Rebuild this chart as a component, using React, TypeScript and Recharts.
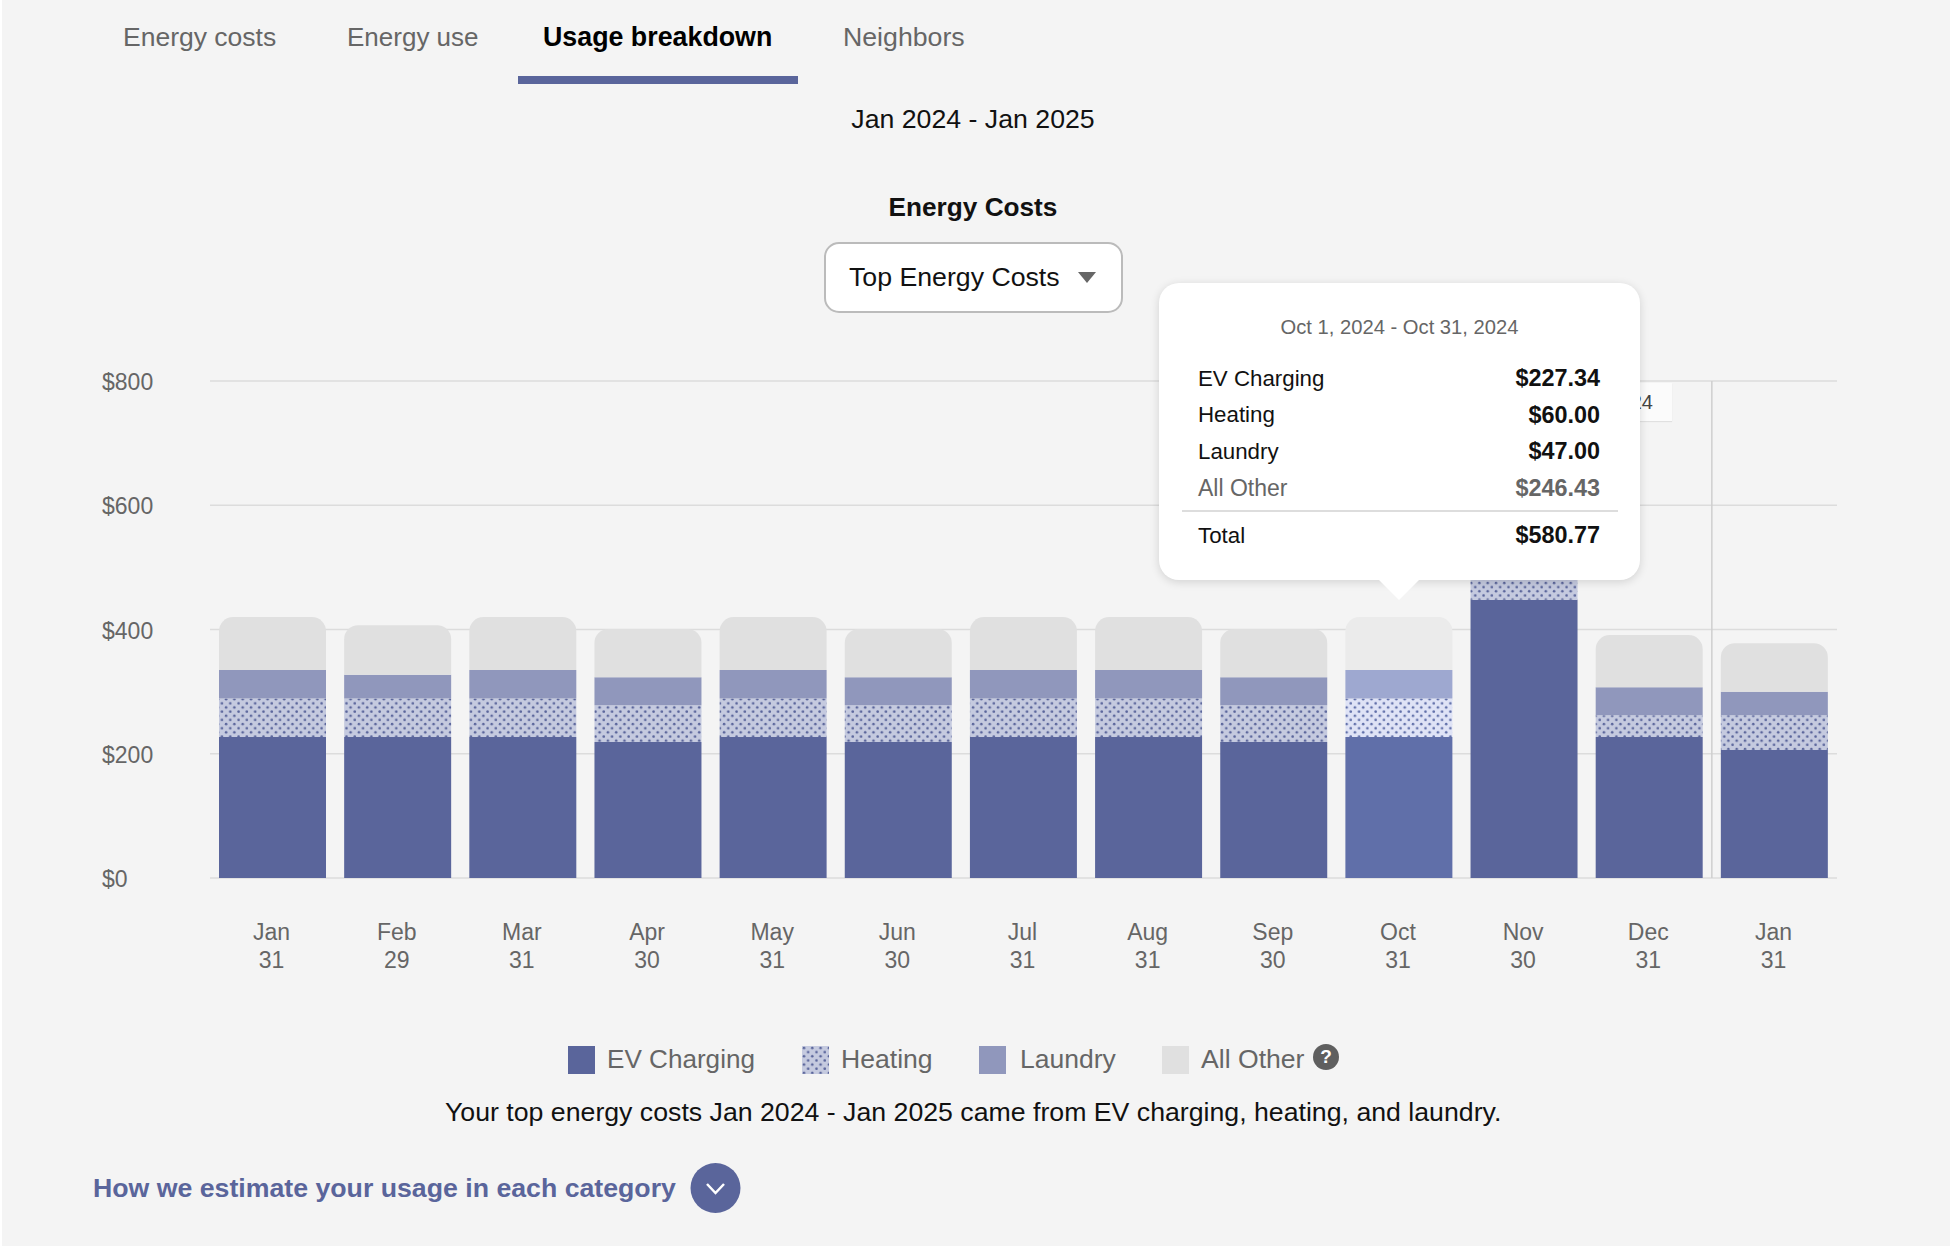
import React from 'react';
import {
  BarChart,
  Bar,
  Cell,
  XAxis,
  YAxis,
  CartesianGrid,
  ReferenceLine,
  Tooltip,
} from 'recharts';

const FONT = '"Liberation Sans", Arial, sans-serif';
const BG = '#f4f4f4';
const INDIGO = '#5a659b';
const GREY = '#666';

const months = ['Jan', 'Feb', 'Mar', 'Apr', 'May', 'Jun', 'Jul', 'Aug', 'Sep', 'Oct', 'Nov', 'Dec', 'Jan'];
const days = ['31', '29', '31', '30', '31', '30', '31', '31', '30', '31', '30', '31', '31'];
const evCharging = [227, 227, 227, 219, 227, 219, 227, 227, 219, 227, 448, 227, 206];
const heating = [62, 62, 62, 59, 62, 59, 62, 62, 59, 62, 60, 35, 56];
const laundry = [46, 38, 46, 45, 46, 45, 46, 46, 45, 46, 47, 45, 38];
const allOther = [85, 80, 85, 78, 85, 78, 85, 85, 78, 85, 86, 84, 78];
const yTicks = [0, 200, 400, 600, 800];

const tabs = ['Energy costs', 'Energy use', 'Usage breakdown', 'Neighbors'];
const tabLefts = [123, 347, 543, 843];
const tabSizes = [26.5, 26, 26.8, 26.7];
const legendNames = ['EV Charging', 'Heating', 'Laundry', 'All Other'];
const legendSizes = [26.1, 26.6, 26.5, 26.6];
const tooltipNames = ['EV Charging', 'Heating', 'Laundry', 'All Other'];
const tooltipValues = ['$227.34', '$60.00', '$47.00', '$246.43'];

const HIGHLIGHT = 9;

const data = months.map((month, i) => ({
  month,
  ev: evCharging[i],
  heating: heating[i],
  laundry: laundry[i],
  other: allOther[i],
}));

const abs = (left: number, top: number, extra: React.CSSProperties = {}): React.CSSProperties => ({
  position: 'absolute',
  left,
  top,
  whiteSpace: 'nowrap',
  ...extra,
});

function Label({ x, y, size = 26.7, color = '#111', bold = false, center = false, children }: any) {
  return (
    <div
      style={abs(x, y, {
        fontSize: size,
        lineHeight: '30px',
        marginTop: -15,
        color,
        fontWeight: bold ? 700 : 400,
        transform: center ? 'translateX(-50%)' : undefined,
      })}
    >
      {children}
    </div>
  );
}

function YTick({ y, payload }: any) {
  return (
    <text x={102} y={y} dy={9} fontSize={23} fontFamily={FONT} fill={GREY} textAnchor="start">
      ${payload.value}
    </text>
  );
}

function XTick({ x, y, index }: any) {
  return (
    <g>
      <text x={x - 1} y={y + 54} fontSize={23} fontFamily={FONT} fill={GREY} textAnchor="middle">
        {months[index]}
      </text>
      <text x={x - 1} y={y + 82} fontSize={23} fontFamily={FONT} fill={GREY} textAnchor="middle">
        {days[index]}
      </text>
    </g>
  );
}

function TooltipCard() {
  return (
    <div
      style={{
        position: 'relative',
        width: 481,
        height: 297,
        background: '#fff',
        borderRadius: 20,
        boxShadow: '0 2px 10px rgba(0,0,0,0.14)',
        fontFamily: FONT,
      }}
    >
      <div style={{ position: 'absolute', left: 0, width: 481, top: 33, textAlign: 'center', fontSize: 20.2, color: GREY }}>
        Oct 1, 2024 - Oct 31, 2024
      </div>
      {tooltipNames.map((name, i) => (
        <div
          key={name}
          style={{
            position: 'absolute',
            left: 39,
            width: 402,
            top: 82 + i * 36.6,
            display: 'flex',
            justifyContent: 'space-between',
            alignItems: 'center',
            fontSize: i === 3 ? 23 : 22.3,
            color: i === 3 ? GREY : '#111',
          }}
        >
          <span>{name}</span>
          <b style={{ fontSize: 23.4 }}>{tooltipValues[i]}</b>
        </div>
      ))}
      <div style={{ position: 'absolute', left: 23, width: 436, top: 227, height: 2, background: '#ddd' }} />
      <div
        style={{
          position: 'absolute',
          left: 39,
          width: 402,
          top: 239,
          display: 'flex',
          justifyContent: 'space-between',
          alignItems: 'center',
          fontSize: 22.3,
          color: '#111',
        }}
      >
        <span>Total</span>
        <b style={{ fontSize: 23.4 }}>$580.77</b>
      </div>
      <div
        style={{
          position: 'absolute',
          left: 240,
          top: 297,
          width: 0,
          height: 0,
          marginLeft: -20,
          borderLeft: '20px solid transparent',
          borderRight: '20px solid transparent',
          borderTop: '20px solid #fff',
        }}
      />
    </div>
  );
}

function Swatch({ x, fill }: { x: number; fill: string }) {
  return (
    <svg style={abs(x, 1046)} width={27} height={28}>
      <rect width={27} height={28} fill={fill} />
    </svg>
  );
}

function Patterns() {
  return (
    <defs>
      <pattern id="dots" width="8.3" height="8.3" patternUnits="userSpaceOnUse">
        <rect width="8.3" height="8.3" fill="#c5cadf" />
        <circle cx="2" cy="2" r="1.3" fill={INDIGO} />
        <circle cx="6.15" cy="6.15" r="1.3" fill={INDIGO} />
      </pattern>
      <pattern id="dotsActive" width="8.3" height="8.3" patternUnits="userSpaceOnUse">
        <rect width="8.3" height="8.3" fill="#dfe3f6" />
        <circle cx="2" cy="2" r="1.3" fill="#606fa9" />
        <circle cx="6.15" cy="6.15" r="1.3" fill="#606fa9" />
      </pattern>
    </defs>
  );
}

export default function App() {
  return (
    <div style={abs(0, 0, { width: 1950, height: 1248, background: '#fff', fontFamily: FONT, overflow: 'hidden' })}>
      <div style={abs(2, 0, { width: 1948, height: 1246, background: BG })} />
      {tabs.map((tab, i) => (
        <Label key={tab} x={tabLefts[i]} y={37} size={tabSizes[i]} bold={i === 2} color={i === 2 ? '#000' : GREY}>
          {tab}
        </Label>
      ))}
      <div style={abs(518, 76, { width: 280, height: 8, background: INDIGO })} />
      <Label x={973} y={119} center>Jan 2024 - Jan 2025</Label>
      <Label x={973} y={207} size={26.2} bold center>Energy Costs</Label>

      <div
        style={abs(824, 242, {
          width: 299,
          height: 71,
          boxSizing: 'border-box',
          background: '#fff',
          border: '2px solid #bbb',
          borderRadius: 15,
        })}
      />
      <Label x={849} y={277}>Top Energy Costs</Label>
      <svg style={abs(1078, 272)} width={18} height={11}>
        <polygon points="0,0 18,0 9,11" fill={GREY} />
      </svg>

      {/* label that sits behind the tooltip */}
      <div
        style={abs(1540, 383, {
          width: 132,
          height: 38,
          background: '#fbfbfb',
          boxShadow: '0 1px 1px rgba(0,0,0,0.08)',
          fontSize: 20,
          lineHeight: '38px',
          textAlign: 'right',
          color: '#444',
          paddingRight: 19,
          boxSizing: 'border-box',
        })}
      >
        24
      </div>

      <div style={abs(0, 0)}>
        <BarChart
          width={1950}
          height={1248}
          data={data}
          barSize={107}
          margin={{ top: 381, right: 113, bottom: 310, left: 103 }}
        >
          <Patterns />
          <CartesianGrid vertical={false} stroke="#dcdcdc" strokeWidth={1.5} />
          <XAxis dataKey="month" height={60} axisLine={false} tickLine={false} interval={0} tick={<XTick />} />
          <YAxis
            width={107}
            domain={[0, 800]}
            ticks={yTicks}
            axisLine={false}
            tickLine={false}
            tick={<YTick />}
          />
          {/* duplicated month names make the category domain index based */}
          <ReferenceLine x={11} position="end" stroke="#cfcfcf" strokeWidth={1.5} />
          <Bar dataKey="ev" stackId="a" fill={INDIGO} isAnimationActive={false}>
            {data.map((_, i) => (
              <Cell key={i} fill={i === HIGHLIGHT ? '#606fa9' : INDIGO} />
            ))}
          </Bar>
          <Bar dataKey="heating" stackId="a" fill="url(#dots)" isAnimationActive={false}>
            {data.map((_, i) => (
              <Cell key={i} fill={i === HIGHLIGHT ? 'url(#dotsActive)' : 'url(#dots)'} />
            ))}
          </Bar>
          <Bar dataKey="laundry" stackId="a" fill="#9097bc" isAnimationActive={false}>
            {data.map((_, i) => (
              <Cell key={i} fill={i === HIGHLIGHT ? '#9ea8d0' : '#9097bc'} />
            ))}
          </Bar>
          <Bar dataKey="other" stackId="a" fill="#e0e0e0" radius={[14, 14, 0, 0]} isAnimationActive={false}>
            {data.map((_, i) => (
              <Cell key={i} fill={i === HIGHLIGHT ? '#ebebeb' : '#e0e0e0'} />
            ))}
          </Bar>
          <Tooltip
            active
            defaultIndex={HIGHLIGHT}
            position={{ x: 1159, y: 283 }}
            cursor={false}
            content={<TooltipCard />}
            isAnimationActive={false}
            wrapperStyle={{ zIndex: 5 }}
          />
        </BarChart>
      </div>

      <Swatch x={568} fill={INDIGO} />
      <svg style={abs(802, 1046)} width={27} height={28}>
        <Patterns />
        <rect width={27} height={28} fill="url(#dots)" />
      </svg>
      <Swatch x={979} fill="#9097bc" />
      <Swatch x={1162} fill="#e0e0e0" />
      {legendNames.map((name, i) => (
        <Label key={name} x={[607, 841, 1020, 1201][i]} y={1059} size={legendSizes[i]} color={GREY}>
          {name}
        </Label>
      ))}
      <div
        style={abs(1313, 1044, {
          width: 26,
          height: 26,
          borderRadius: 13,
          background: '#5f5f5f',
          color: '#fff',
          fontSize: 19,
          fontWeight: 700,
          lineHeight: '26px',
          textAlign: 'center',
        })}
      >
        ?
      </div>

      <Label x={445} y={1112}>
        Your top energy costs Jan 2024 - Jan 2025 came from EV charging, heating, and laundry.
      </Label>
      <Label x={93} y={1188} bold color={INDIGO}>
        How we estimate your usage in each category
      </Label>
      <svg style={abs(690, 1163)} width={51} height={50}>
        <circle cx={25.5} cy={25} r={25} fill={INDIGO} />
        <polyline points="17,21 25.5,30 34,21" fill="none" stroke="#fff" strokeWidth={2.5} />
      </svg>
    </div>
  );
}
